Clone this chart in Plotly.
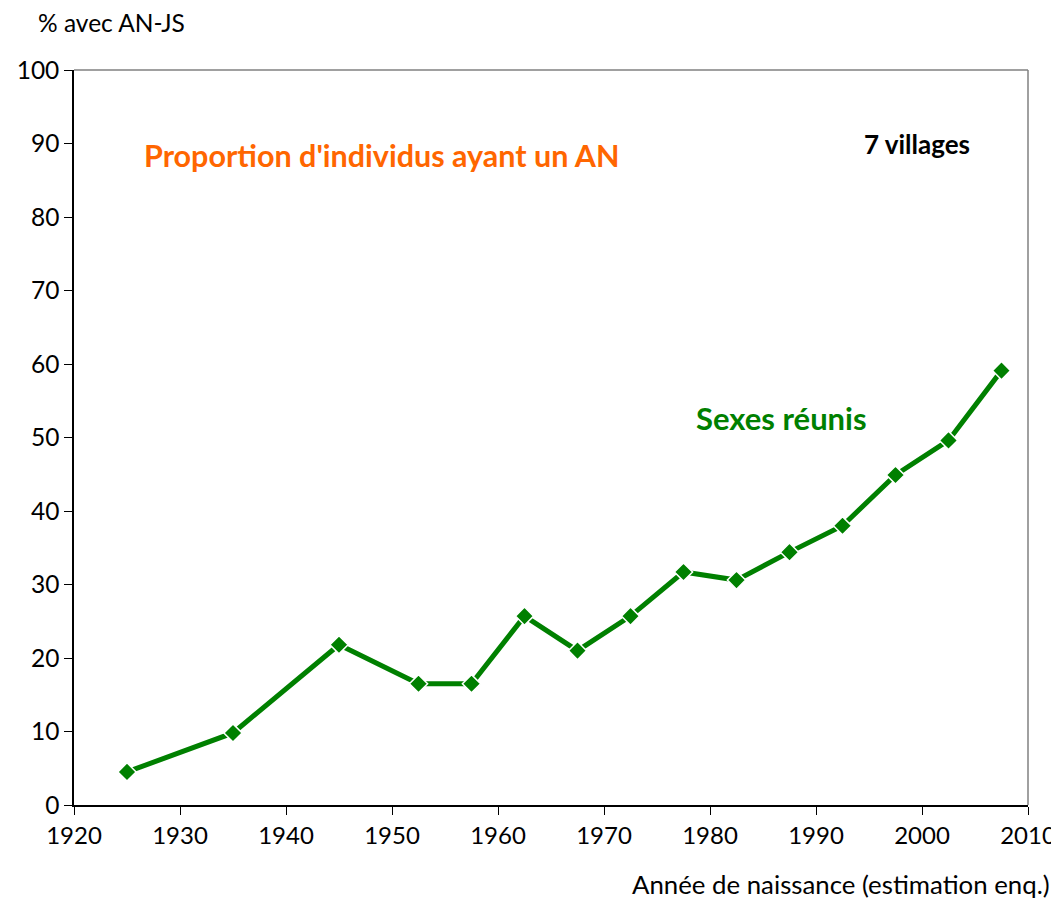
import plotly.graph_objects as go

# données
annees = [1925, 1935, 1945, 1952.5, 1957.5, 1962.5, 1967.5, 1972.5,
          1977.5, 1982.5, 1987.5, 1992.5, 1997.5, 2002.5, 2007.5]
pct_an = [4.5, 9.8, 21.8, 16.5, 16.5, 25.7, 21.0, 25.7,
          31.7, 30.6, 34.4, 38.0, 44.9, 49.6, 59.1]

x_ticks = [1920, 1930, 1940, 1950, 1960, 1970, 1980, 1990, 2000, 2010]
y_ticks = [0, 10, 20, 30, 40, 50, 60, 70, 80, 90, 100]

POLICE = "Lato, 'Open Sans', sans-serif"
VERT = "#008000"

fig = go.Figure()

fig.add_trace(go.Scatter(
    x=annees,
    y=pct_an,
    mode="lines+markers",
    line=dict(color=VERT, width=5),
    marker=dict(symbol="diamond", size=14, color=VERT,
                line=dict(color="white", width=1.5)),
    showlegend=False,
    hoverinfo="x+y",
))

# la page ajoute une marge de 8 px autour du graphique : on en tient compte
# (figure un peu plus large que la fenêtre pour ne pas couper "2010")
fig.update_layout(
    width=1080,
    height=900,
    paper_bgcolor="white",
    plot_bgcolor="white",
    margin=dict(l=66, r=60, t=62, b=103, autoexpand=False),
    font=dict(family=POLICE, size=26, color="black"),
    xaxis=dict(
        range=[1920, 2010],
        tickvals=x_ticks,
        ticks="outside",
        ticklen=8,
        tickcolor="black",
        showline=True,
        linecolor="black",
        linewidth=1.5,
        showgrid=False,
        zeroline=False,
        tickfont=dict(size=24),
    ),
    yaxis=dict(
        range=[0, 100],
        tickvals=y_ticks,
        ticks="outside",
        ticklen=8,
        tickcolor="black",
        showline=True,
        linecolor="black",
        linewidth=1.5,
        showgrid=False,
        zeroline=False,
        tickfont=dict(size=24.5),
    ),
    shapes=[
        # bords haut et droit en gris
        dict(type="line", xref="paper", yref="paper", x0=0, x1=1, y0=1, y1=1,
             line=dict(color="#808080", width=1.5)),
        dict(type="line", xref="paper", yref="paper", x0=1, x1=1, y0=0, y1=1,
             line=dict(color="#808080", width=1.5)),
    ],
    annotations=[
        dict(text="% avec AN-JS", xref="paper", yref="paper",
             x=-0.040, y=1.065, xanchor="left", yanchor="middle",
             showarrow=False, font=dict(size=24.5)),
        dict(text="Année de naissance (estimation enq.)", xref="paper", yref="paper",
             x=1.025, y=-0.1075, xanchor="right", yanchor="middle",
             showarrow=False, font=dict(size=25.8)),
        dict(text="<b>Proportion d'individus ayant un AN</b>", x=1949.1, y=88.4,
             showarrow=False, font=dict(size=30.5, color="#FF6600")),
        dict(text="<b>7 villages</b>", x=1999.5, y=89.9,
             showarrow=False, font=dict(size=26, color="black")),
        dict(text="<b>Sexes réunis</b>", x=1986.7, y=52.7,
             showarrow=False, font=dict(size=31, color=VERT)),
    ],
)

fig.write_html("out.html")
